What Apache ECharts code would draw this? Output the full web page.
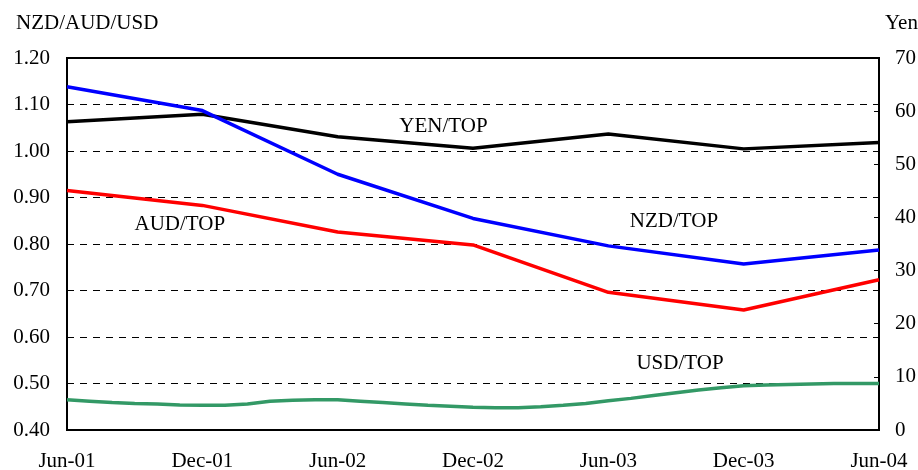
<!DOCTYPE html>
<html>
<head>
<meta charset="utf-8">
<script src="https://cdn.jsdelivr.net/npm/echarts@6/dist/echarts.min.js"></script>
<style>
html,body{margin:0;padding:0;background:#fff;}
#chart{width:918px;height:470px;}
</style>
</head>
<body>
<div id="chart"></div>
<script>
// Monthly categories Jun-01 .. Jun-04
const months = ["Jun-01","Jul-01","Aug-01","Sep-01","Oct-01","Nov-01","Dec-01","Jan-02","Feb-02","Mar-02","Apr-02","May-02",
  "Jun-02","Jul-02","Aug-02","Sep-02","Oct-02","Nov-02","Dec-02","Jan-03","Feb-03","Mar-03","Apr-03","May-03",
  "Jun-03","Jul-03","Aug-03","Sep-03","Oct-03","Nov-03","Dec-03","Jan-04","Feb-04","Mar-04","Apr-04","May-04","Jun-04"];
// Semi-annual observations (Jun-01, Dec-01, ..., Jun-04)
const semiDates = ["Jun-01","Dec-01","Jun-02","Dec-02","Jun-03","Dec-03","Jun-04"];
const nzdTop = [1.138, 1.087, 0.950, 0.855, 0.796, 0.757, 0.787];
const audTop = [0.915, 0.883, 0.826, 0.798, 0.696, 0.658, 0.723];
const yenTop = [58.0, 59.4, 55.2, 53.0, 55.7, 52.9, 54.1];
// Monthly USD/TOP
const usdTop = [0.465,0.462,0.459,0.457,0.456,0.454,0.453,0.453,0.456,0.462,0.464,0.465,
  0.465,0.462,0.459,0.456,0.453,0.451,0.449,0.448,0.448,0.450,0.453,0.457,
  0.463,0.468,0.474,0.480,0.486,0.491,0.495,0.497,0.498,0.499,0.500,0.500,0.500];
const leftTicks = {min:0.4, max:1.2, interval:0.1};
const rightTicks = {min:0, max:70, interval:10};

function expand(vals){
  const out = months.map(()=>null);
  semiDates.forEach((d,i)=>{ out[months.indexOf(d)] = vals[i]; });
  return out;
}

const FONT = "Liberation Serif";
const FS = 21;
const txt = {fontFamily:FONT, fontSize:FS, color:'#000'};
function lbl(name, coord, offset){
  return {symbol:'circle', symbolSize:0, silent:true,
    label:{show:true, position:'inside', formatter:name, fontFamily:FONT, fontSize:FS, color:'#000', offset:offset||[0,0]},
    data:[{coord:coord}]};
}

const chart = echarts.init(document.getElementById('chart'));
chart.setOption({
  animation:false,
  backgroundColor:'#fff',
  title:[
    {text:'NZD/AUD/USD', left:11, top:8, textStyle:{fontFamily:FONT, fontSize:FS, fontWeight:'normal', color:'#000'}},
    {text:'Yen', left:880, top:8, textStyle:{fontFamily:FONT, fontSize:FS, fontWeight:'normal', color:'#000'}}
  ],
  grid:{left:67, right:39, top:58, bottom:40, show:true, borderColor:'#000', borderWidth:2,
        backgroundColor:'transparent', containLabel:false, outerBoundsMode:'none'},
  xAxis:{type:'category', data:months, boundaryGap:false,
    axisLine:{lineStyle:{color:'#000', width:2}}, axisTick:{show:false},
    axisLabel:Object.assign({interval:5, margin:21}, txt), splitLine:{show:false}},
  yAxis:[
    {type:'value', min:leftTicks.min, max:leftTicks.max, interval:leftTicks.interval,
     axisLine:{show:true, lineStyle:{color:'#000', width:2}}, axisTick:{show:false},
     axisLabel:Object.assign({margin:17, formatter:v=>v.toFixed(2)}, txt),
     splitLine:{show:true, lineStyle:{color:'#000', width:1, type:[7,6]}}},
    {type:'value', min:rightTicks.min, max:rightTicks.max, interval:rightTicks.interval, position:'right',
     axisLine:{show:true, lineStyle:{color:'#000', width:2}}, axisTick:{show:true, inside:true, length:5, lineStyle:{color:'#000'}},
     axisLabel:Object.assign({margin:16}, txt), splitLine:{show:false}}
  ],
  series:[
    {name:'YEN/TOP', type:'line', yAxisIndex:1, data:expand(yenTop), connectNulls:true, symbol:'none',
     lineStyle:{color:'#000', width:3.5}, itemStyle:{color:'#000'}, markPoint:lbl('YEN/TOP',[17,57.2],[-7,0])},
    {name:'NZD/TOP', type:'line', data:expand(nzdTop), connectNulls:true, symbol:'none',
     lineStyle:{color:'#0000ff', width:3.5}, itemStyle:{color:'#0000ff'}, markPoint:lbl('NZD/TOP',[27,0.848],[-2,0])},
    {name:'AUD/TOP', type:'line', data:expand(audTop), connectNulls:true, symbol:'none',
     lineStyle:{color:'#ff0000', width:3.5}, itemStyle:{color:'#ff0000'}, markPoint:lbl('AUD/TOP',[5,0.841],[0,0])},
    {name:'USD/TOP', type:'line', data:usdTop, symbol:'none',
     lineStyle:{color:'#339966', width:3.5}, itemStyle:{color:'#339966'}, markPoint:lbl('USD/TOP',[27,0.544],[4,0])}
  ]
});
</script>
</body>
</html>
